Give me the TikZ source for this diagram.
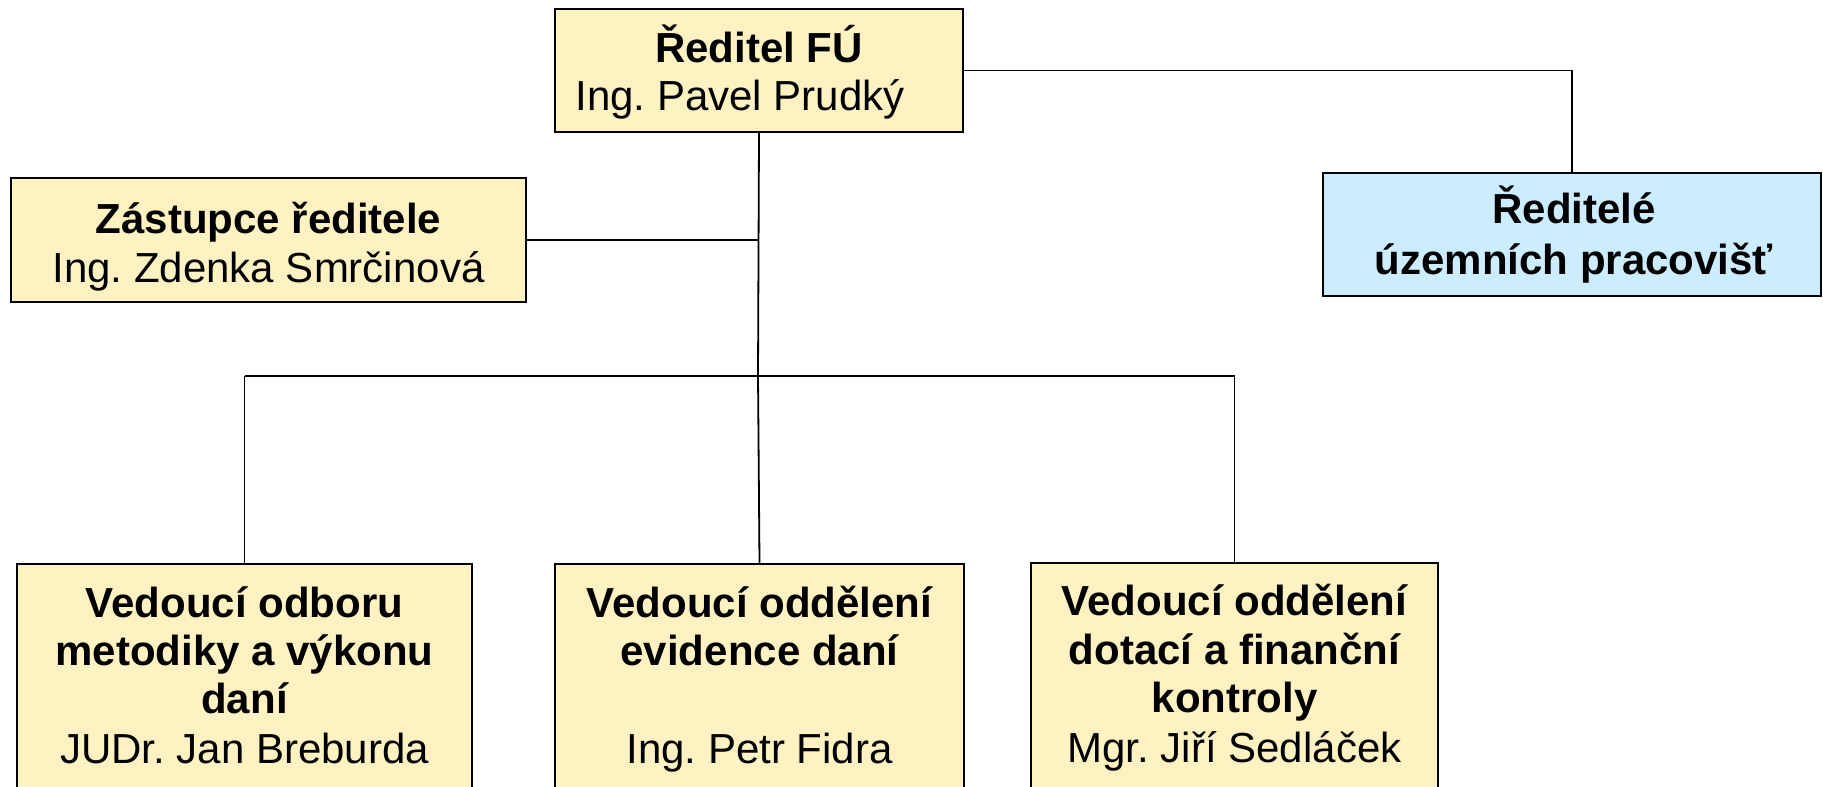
\documentclass[tikz,border=0pt]{standalone}
\usepackage{fontspec}
\setmainfont{Liberation Sans}
\frenchspacing
\definecolor{boxyellow}{HTML}{FFF2C2}
\definecolor{boxblue}{HTML}{CCECFF}
\tikzset{
  ybox/.style={draw=black, fill=boxyellow, line width=2.2pt, inner sep=0pt, rectangle},
  bbox/.style={draw=black, fill=boxblue, line width=2.2pt, inner sep=0pt, rectangle},
  txt/.style={anchor=base, inner sep=0pt, font=\fontsize{42}{49}\selectfont},
  btxt/.style={txt, font=\fontsize{42}{49}\selectfont\bfseries},
  conn/.style={draw=black, line width=1.8pt}
}
\begin{document}
\begin{tikzpicture}[x=1pt, y=-1pt]
\useasboundingbox (0,0) rectangle (1823,787);
\clip (0,0) rectangle (1823,787);
\fill[white] (0,0) rectangle (1823,787);

\coordinate (j) at (758,376);
% boxes
\node[ybox, minimum width=408pt, minimum height=123pt] (dir) at (759,70.5) {};
\node[ybox, minimum width=515pt, minimum height=124pt] (zast) at (268.5,240) {};
\node[bbox, minimum width=498pt, minimum height=123pt] (rt) at (1572,234.5) {};
\node[ybox, minimum width=455pt, minimum height=246pt] (b1) at (244.5,687) {};
\node[ybox, minimum width=409pt, minimum height=246pt] (b2) at (759.5,687) {};
\node[ybox, minimum width=407pt, minimum height=248pt] (b3) at (1234.5,687) {};

% connectors
\draw[conn] (dir.south) -- (j);
\draw[conn] (zast.east) -- (zast.east -| j);
\draw[conn] (b1.north |- j) -- (b3.north |- j);
\draw[conn] (b1.north |- j) -- (b1.north);
\draw[conn] (j) -- (b2.north);
\draw[conn] (b3.north |- j) -- (b3.north);
\draw[conn] (dir.east) -| (rt.north);

% texts
\node[btxt] (dirA) at (759,62) {Ředitel FÚ};
\node[txt] (dirB) at (740,110) {Ing. Pavel Prudký};

\node[btxt] (zastA) at (268.5,233) {Zástupce ředitele};
\node[txt] (zastB) at (268.5,282) {Ing. Zdenka Smrčinová};

\node[btxt] (rtA) at (1574,223) {Ředitelé};
\node[btxt] (rtB) at (1574,274) {územních pracovišť};

\node[btxt] (b1A) at (244.5,617) {Vedoucí odboru};
\node[btxt] (b1B) at (244.5,665) {metodiky a výkonu};
\node[btxt] (b1C) at (244.5,713) {daní};
\node[txt] (b1D) at (244.5,763) {JUDr. Jan Breburda};

\node[btxt] (b2A) at (759.5,617) {Vedoucí oddělení};
\node[btxt] (b2B) at (759.5,665) {evidence daní};
\node[txt] (b2D) at (759.5,763) {Ing. Petr Fidra};

\node[btxt] (b3A) at (1234.5,615) {Vedoucí oddělení};
\node[btxt] (b3B) at (1234.5,664) {dotací a finanční};
\node[btxt] (b3C) at (1234.5,712) {kontroly};
\node[txt] (b3D) at (1234.5,762) {Mgr. Jiří Sedláček};
\end{tikzpicture}
\end{document}
